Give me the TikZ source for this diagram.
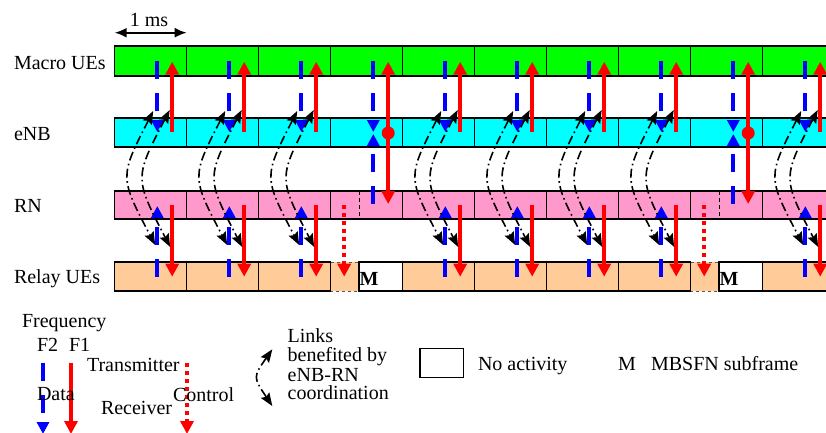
\documentclass[tikz,border=0pt]{standalone}
\usepackage{fontspec}
\setmainfont{Liberation Serif}
\usetikzlibrary{arrows.meta}
\definecolor{macrogreen}{RGB}{0,255,0}
\definecolor{enbcyan}{RGB}{0,255,255}
\definecolor{rnpink}{RGB}{255,153,204}
\definecolor{uetan}{RGB}{255,204,153}
\definecolor{fblue}{RGB}{0,0,255}
\definecolor{fred}{RGB}{255,0,0}

\begin{document}
\begin{tikzpicture}[x=1pt,y=-1pt,
  every node/.style={inner sep=0pt, outer sep=0pt, font=\fontsize{20}{22}\selectfont},
  cell/.style={draw=black, line width=1.5pt},
  f2data/.style={draw=fblue, line width=4pt, dash pattern=on 18pt off 14pt,
                 -{Triangle[length=12pt,width=12pt]}},
  f1data/.style={draw=fred, line width=4pt, -{Triangle[length=13pt,width=13pt]}},
  f1ctrl/.style={draw=fred, line width=4pt, dash pattern=on 4pt off 4pt,
                 -{Triangle[length=13pt,width=13pt]}},
  linkarc/.style={line width=1.6pt, dash pattern=on 9pt off 3.5pt on 1.6pt off 3.5pt,
                  {Stealth[length=13pt,width=10pt,inset=2pt]}-{Stealth[length=13pt,width=10pt,inset=2pt]}},
  lbl/.style={anchor=base west},
]
\useasboundingbox (0,0) rectangle (826,432);
\clip (0,0) rectangle (826,432);

% ---- subframe grid: Macro UEs, eNB, RN rows ----
\foreach \k in {0,...,9} {
  \pgfmathsetmacro\l{114.7+72*\k}
  \draw[cell, fill=macrogreen] (\l,46) rectangle ++(72,30);
  \draw[cell, fill=enbcyan]    (\l,118) rectangle ++(72,29);
  \draw[cell, fill=rnpink]     (\l,191) rectangle ++(72,28);
}
% ---- Relay UEs row: MBSFN subframes (partly idle) ----
\foreach \k in {3,8} {
  \pgfmathsetmacro\l{114.7+72*\k}
  \fill[uetan] (\l,262) rectangle ++(28.5,29);
  \draw[black!65, line width=1pt, dash pattern=on 3pt off 3pt]
    (\l,262) -- ++(28.5,0) -- ++(0,29) -- ++(-28.5,0);
  \draw[cell, fill=white] (\l+28.5,262) rectangle (\l+72,291);
  \node[lbl, font=\fontsize{20}{22}\selectfont\bfseries] (mb\k) at (\l+28.9,285) {M};
  \draw[black, line width=1pt, dash pattern=on 4pt off 3pt] (\l+28.5,191) -- (\l+28.5,219);
}
% ---- Relay UEs row: normal subframes ----
\foreach \k in {0,1,2,4,5,6,7,9} {
  \pgfmathsetmacro\l{114.7+72*\k}
  \draw[cell, fill=uetan] (\l,262) rectangle ++(72,29);
}

% ---- row labels ----
\node[lbl] (lblmacro) at (14,69.5) {Macro UEs};
\node[lbl] (lblenb)   at (14,140) {eNB};
\node[lbl] (lblrn)    at (14,212.5) {RN};
\node[lbl] (lblrelay) at (14,283) {Relay UEs};

% ---- subframe length ----
\coordinate (msL) at (114.7,32.7);
\coordinate (msR) at (186.7,32.7);
\draw[line width=2pt, {Latex[length=12pt,width=10pt]}-{Latex[length=12pt,width=10pt]}] (msL) -- (msR);
\node[anchor=base] (onems) at (149,26.5) {1 ms};

% ---- normal subframes: access links ----
\foreach \k in {0,1,2,4,5,6,7,9} {
  \pgfmathsetmacro\l{114.7+72*\k}
  \draw[f2data] (\l+42.6,61) -- (\l+42.6,132);
  \draw[f1data] (\l+57.5,132) -- (\l+57.5,61.7);
  \draw[f2data] (\l+42.6,276.7) -- (\l+42.6,206);
  \draw[f1data] (\l+57.5,205) -- (\l+57.5,276.7);
}
% ---- MBSFN subframes: backhaul links ----
\foreach \k in {3,8} {
  \pgfmathsetmacro\l{114.7+72*\k}
  \draw[f2data] (\l+42.6,61) -- (\l+42.6,132);
  \draw[f2data] (\l+42.6,204) -- (\l+42.6,134);
  \draw[f1data] (\l+57.5,133) -- (\l+57.5,61.7);
  \draw[f1data] (\l+57.5,133) -- (\l+57.5,204);
  \fill[fred] (\l+57.5,133) circle (6.5);
  \draw[f1ctrl] (\l+13.5,205) -- (\l+13.5,276.7);
}
% ---- links benefited by eNB-RN coordination ----
\foreach \k in {0,1,2,4,5,6,7,9} {
  \pgfmathsetmacro\l{114.7+72*\k}
  \draw[linkarc] (\l+38.5,111) .. controls (\l+4.7,177) .. (\l+40.5,245);
  \draw[linkarc] (\l+55,110) .. controls (\l+19.6,178) .. (\l+55.5,247);
}

% ---- legend ----
\node[lbl] (freq) at (22,327) {Frequency};
\node[lbl] (ftwo) at (37,351.5) {F2};
\node[lbl] (fone) at (69,351.5) {F1};
\draw[f2data] (43,363) -- (43,434);
\draw[f1data] (71,363) -- (71,434);
\draw[f1ctrl] (187,363) -- (187,434);
\node[lbl] (ltx)   at (87,371) {Transmitter};
\node[lbl] (ldata) at (37,400) {Data};
\node[lbl] (lrx)   at (101,414.3) {Receiver};
\node[lbl] (lctl)  at (173,401.7) {Control};

\draw[linkarc] (272.3,349.3) .. controls (253,377) .. (272.3,406);
\node[lbl] (lk1) at (287.7,342.7) {Links};
\node[lbl] (lk2) at (287.7,361.7) {benefited by};
\node[lbl] (lk3) at (287.7,381) {eNB-RN};
\node[lbl] (lk4) at (287.7,399.3) {coordination};

\draw[line width=1.5pt] (420,348.3) rectangle (463.3,377.3);
\node[lbl] (lidle) at (478,370.7) {No activity};
\node[lbl] (lm)    at (618,370.7) {M};
\node[lbl] (lmbs)  at (651,370.7) {MBSFN subframe};
\end{tikzpicture}
\end{document}
